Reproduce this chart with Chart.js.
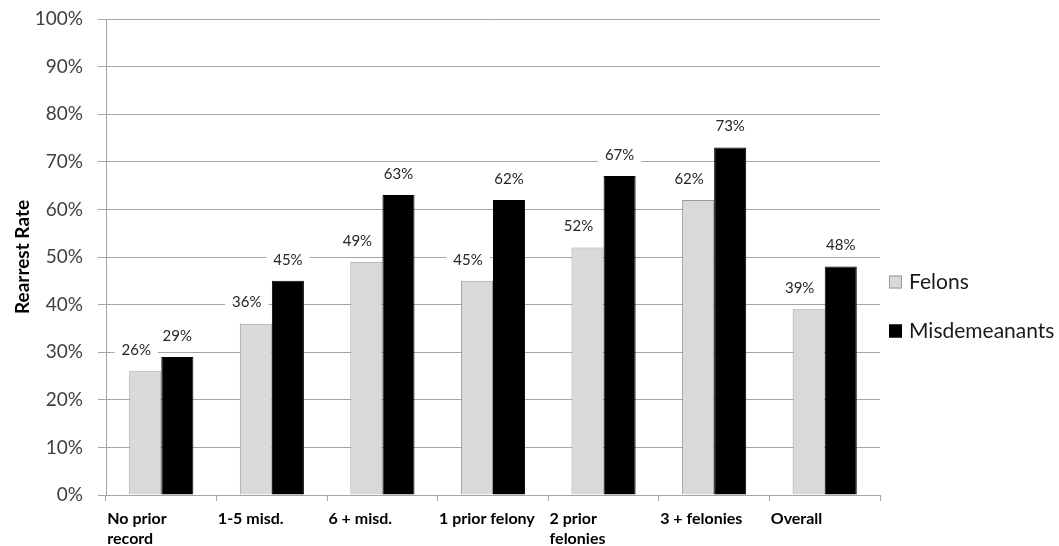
<!DOCTYPE html>
<html>
<head>
<meta charset="utf-8">
<script src="https://cdn.jsdelivr.net/npm/chart.js@4"></script>
<style>
  html, body { margin: 0; padding: 0; background: #fff; overflow: hidden; }
  #wrap { position: relative; width: 1059px; height: 551px; }
</style>
</head>
<body>
<div id="wrap"><canvas id="chart"></canvas></div>
<script>
var categories = [["No prior", "record"], "1-5 misd.", "6 + misd.", "1 prior felony", ["2 prior", "felonies"], "3 + felonies", "Overall"];
var felons = [26, 36, 49, 45, 52, 62, 39];
var misdemeanants = [29, 45, 63, 62, 67, 73, 48];
var seriesNames = ["Felons", "Misdemeanants"];
var yMax = 100, yStep = 10;

var gridGray = "#a6a6a6";
var font = "Lato, 'Open Sans', sans-serif";

// labels above bars, on a white box that cuts the gridlines
var barLabels = {
    id: "barLabels",
    afterDatasetsDraw: function (chart) {
        var ctx = chart.ctx;
        ctx.save();
        ctx.font = "15px " + font;
        ctx.textAlign = "center";
        ctx.textBaseline = "middle";
        chart.data.datasets.forEach(function (ds, di) {
            var meta = chart.getDatasetMeta(di);
            meta.data.forEach(function (bar, i) {
                var text = ds.data[i] + "%";
                var x = bar.x + (di === 0 ? -9 : 0);
                var y = bar.y - 21;
                var w = ctx.measureText(text).width + 14;
                ctx.fillStyle = "#fff";
                ctx.fillRect(x - w / 2, y - 9, w, 18);
                ctx.fillStyle = "#262626";
                ctx.fillText(text, x, y);
            });
        });
        ctx.restore();
    }
};

// legend on the right, a bit below the middle
var sideLegend = {
    id: "sideLegend",
    afterDraw: function (chart) {
        var ctx = chart.ctx;
        var area = chart.chartArea;
        var x = area.right + 9;
        var y = (area.top + area.bottom) / 2 + 25;
        ctx.save();
        ctx.font = "21px " + font;
        ctx.textBaseline = "middle";
        chart.data.datasets.forEach(function (ds, di) {
            var cy = y + di * 49;
            ctx.fillStyle = ds.backgroundColor;
            ctx.fillRect(x, cy - 6.5, 13, 13);
            ctx.strokeStyle = ds.borderColor;
            ctx.lineWidth = 1;
            ctx.strokeRect(x + 0.5, cy - 6, 12, 12);
            ctx.fillStyle = "#1a1a1a";
            ctx.fillText(ds.label, x + 20, cy);
        });
        ctx.restore();
    }
};

var ctx = document.getElementById("chart");
var chart = new Chart(ctx, {
    type: "bar",
    data: {
        labels: categories,
        datasets: [
            {
                label: seriesNames[0],
                data: felons,
                backgroundColor: "#d9d9d9",
                borderColor: "#9a9a9a",
                borderWidth: 1,
                categoryPercentage: 0.58,
                barPercentage: 1.0
            },
            {
                label: seriesNames[1],
                data: misdemeanants,
                backgroundColor: "#000000",
                borderColor: "#000000",
                borderWidth: 1,
                categoryPercentage: 0.58,
                barPercentage: 1.0
            }
        ]
    },
    options: {
        responsive: true,
        maintainAspectRatio: false,
        animation: false,
        layout: { padding: { top: 0, right: 179, left: 7, bottom: 0 } },
        plugins: {
            legend: { display: false },
            tooltip: { enabled: false }
        },
        scales: {
            x: {
                offset: true,
                grid: {
                    display: true,
                    drawOnChartArea: false,
                    offset: true,
                    tickLength: 6,
                    color: gridGray
                },
                border: { color: gridGray },
                ticks: {
                    autoSkip: false,
                    maxRotation: 0,
                    align: "start",
                    labelOffset: -54,
                    padding: 7,
                    color: "#000",
                    font: { family: font, size: 16, weight: "bold", lineHeight: 1.3 }
                },
                afterFit: function (scale) {
                    scale.height = 56;
                }
            },
            y: {
                min: 0,
                max: yMax,
                grid: { color: gridGray, tickLength: 8 },
                border: { color: gridGray },
                ticks: {
                    stepSize: yStep,
                    padding: 15,
                    color: "#404040",
                    font: { family: font, size: 19 },
                    callback: function (v) { return v + "%"; }
                },
                title: {
                    display: true,
                    text: "Rearrest Rate",
                    color: "#000",
                    font: { family: font, size: 19, weight: "bold" }
                },
                afterFit: function (scale) {
                    scale.width = 99;
                    scale.paddingTop = 19;
                    scale.paddingBottom = 11;
                }
            }
        }
    },
    plugins: [barLabels, sideLegend]
});
</script>
</body>
</html>
